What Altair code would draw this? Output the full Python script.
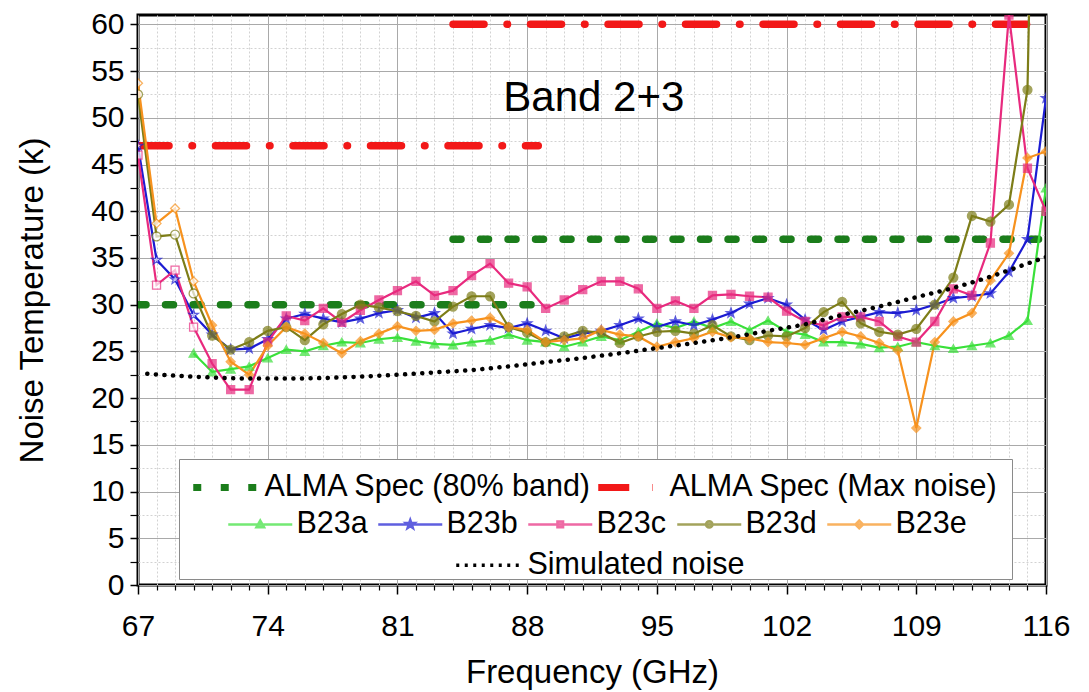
import altair as alt
import pandas as pd

FONT = "Arial"

# ---------------- data ----------------
FREQ = list(range(67, 117))

B23A = [None, None, None, 24.8, 22.8, 23.1, 23.4, 24.3, 25.2, 25.0,
        25.6, 26.0, 25.9, 26.3, 26.5, 26.1, 25.8, 25.7, 26.0, 26.2,
        26.8, 26.2, 26.0, 25.5, 26.0, 26.6, 26.2, 27.1, 28.0, 27.5,
        28.2, 27.5, 28.2, 27.3, 28.3, 27.1, 26.8, 26.0, 26.0, 25.8,
        25.4, 25.5, 26.0, 25.6, 25.3, 25.6, 25.9, 26.7, 28.3, 42.5]
B23B = [47.0, 34.8, 32.7, 28.9, 26.8, 25.2, 25.3, 26.3, 28.5, 29.0,
        28.5, 28.1, 28.5, 29.1, 29.4, 28.6, 29.1, 26.9, 27.4, 27.8,
        27.5, 28.0, 27.2, 26.4, 26.9, 27.2, 27.8, 28.5, 27.6, 28.2,
        27.8, 28.4, 29.1, 30.1, 30.7, 30.0, 28.4, 27.3, 28.2, 28.7,
        29.2, 29.1, 29.4, 30.0, 30.7, 30.9, 31.2, 33.5, 37.0, 52.1]
B23C = [46.0, 32.1, 33.7, 27.6, 23.7, 20.9, 20.9, 26.0, 28.8, 28.3,
        29.6, 28.1, 29.4, 30.5, 31.5, 32.5, 31.0, 31.5, 33.1, 34.4,
        32.3, 31.9, 29.6, 30.5, 31.6, 32.5, 32.5, 31.7, 29.6, 30.4,
        29.6, 31.0, 31.1, 30.9, 30.8, 29.3, 28.2, 27.8, 28.7, 28.7,
        28.2, 26.6, 26.0, 28.2, 31.7, 31.0, 36.6, 61.0, 44.6, 40.0]
B23D = [52.5, 37.3, 37.5, 31.2, 26.7, 25.2, 26.0, 27.2, 27.6, 26.2,
        27.9, 29.0, 30.0, 29.7, 29.3, 28.8, 28.2, 29.8, 30.9, 30.9,
        27.6, 27.0, 26.0, 26.6, 27.2, 27.0, 25.9, 26.6, 27.1, 27.2,
        26.9, 27.8, 26.6, 26.2, 26.7, 26.6, 27.5, 29.2, 30.3, 28.0,
        27.1, 26.8, 27.4, 30.0, 32.9, 39.5, 38.9, 40.7, 53.0, 150.0]
B23E = [53.7, 38.7, 40.3, 32.5, 27.8, 23.9, 22.5, 25.6, 27.6, 26.9,
        25.9, 24.8, 26.1, 26.9, 27.7, 27.2, 27.3, 28.0, 28.3, 28.6,
        27.6, 27.3, 26.0, 26.2, 26.4, 27.3, 26.8, 26.6, 25.5, 26.0,
        26.4, 27.1, 26.5, 26.4, 26.0, 25.9, 25.7, 26.4, 27.1, 26.6,
        25.9, 25.1, 16.8, 26.0, 28.2, 29.1, 32.6, 35.5, 45.7, 46.4]

SIM_FREQ = [67.5, 69, 71, 73, 75, 77, 79, 81, 83, 85, 87, 89, 91, 93,
            95, 97, 99, 101, 103, 105, 107, 109, 111, 113, 115, 116]
SIM_T = [22.6, 22.4, 22.2, 22.1, 22.1, 22.15, 22.3, 22.5, 22.75, 23.0,
         23.4, 23.85, 24.3, 24.8, 25.35, 25.9, 26.5, 27.2, 27.9, 28.9,
         29.8, 30.8, 31.8, 33.0, 34.4, 35.1]
SIM_NAME = "Simulated noise"

SERIES = ["B23a", "B23b", "B23c", "B23d", "B23e"]
SERIES_VALUES = [B23A, B23B, B23C, B23D, B23E]
COLORS = ["#3ae03a", "#1c1cd2", "#e82a7e", "#7d7d18", "#f7921e"]

SPEC_NAMES = ["ALMA Spec (80% band)", "ALMA Spec (Max noise)"]
SPEC_SEGMENT = [SPEC_NAMES[0], SPEC_NAMES[0], SPEC_NAMES[1], SPEC_NAMES[1]]
SPEC_START = [67, 84, 67, 84]
SPEC_END = [89, 116, 88.6, 116]
SPEC_LEVEL = [30, 37, 47, 60]
SPEC_COLORS = ["#1b7d1b", "#f21818"]

X_MAJOR = [67, 74, 81, 88, 95, 102, 109, 116]
X_MINOR = [v for v in range(67, 117) if v not in X_MAJOR]
Y_MAJOR = list(range(0, 61, 5))
Y_MINOR = [v + 2.5 for v in range(0, 60, 5)]

BAND_TEXT = "Band 2+3"
BAND_F = 91.6
BAND_T = 52.1

# ---------------- tables ----------------
rows = []
for name, vals in zip(SERIES, SERIES_VALUES):
    for f, t in zip(FREQ, vals):
        if t is not None:
            rows.append({"f": f, "T": t, "series": name})
df = pd.DataFrame(rows)
spec_df = pd.DataFrame({"spec": SPEC_SEGMENT, "start": SPEC_START,
                        "end": SPEC_END, "level": SPEC_LEVEL})
sim_df = pd.DataFrame({"f": SIM_FREQ, "T": SIM_T, "sim": SIM_NAME})
band_df = pd.DataFrame({"f": [BAND_F], "T": [BAND_T], "label": [BAND_TEXT]})

STAR = ("M0,-1L0.235,-0.324L0.951,-0.309L0.38,0.124L0.588,0.809L0,0.4"
        "L-0.588,0.809L-0.38,0.124L-0.951,-0.309L-0.235,-0.324Z")
PLOT_SHAPES = ["triangle-up", STAR, "square", "circle", "diamond"]
PLOT_SIZES = [80, 100, 64, 80, 80]

# legend symbol paths (1 unit = 4 px); line from -3.5 to 12.5, marker at 4.5
LEG_LINE = "M-3.5,0H12.5"
LEGEND_SHAPES = [
    LEG_LINE + "M4.5,-0.95L5.45,0.7L3.55,0.7Z",
    LEG_LINE + "M4.5,-1.1L4.76,-0.36L5.55,-0.34L4.92,0.14L5.15,0.89L4.5,0.44"
               "L3.85,0.89L4.08,0.14L3.45,-0.34L4.24,-0.36Z",
    LEG_LINE + "M3.8,-0.7H5.2V0.7H3.8Z",
    LEG_LINE + "M5.3,0A0.8,0.8,0,1,1,3.7,0A0.8,0.8,0,1,1,5.3,0Z",
    LEG_LINE + "M4.5,-0.95L5.45,0L4.5,0.95L3.55,0Z",
]

xscale = alt.Scale(domain=[67, 116], nice=False, zero=False)
yscale = alt.Scale(domain=[0, 61], nice=False, zero=False)
stroke_scale = alt.Scale(domain=SERIES, range=COLORS)
fill_scale = alt.Scale(domain=SERIES, range=COLORS)

x_main = alt.Axis(values=X_MAJOR, orient="bottom", grid=True, gridColor="#a9a9a9",
                  gridWidth=1, tickSize=9, tickWidth=1.5, tickColor="black",
                  domain=False, labelFontSize=30, labelFont=FONT, labelColor="black",
                  labelPadding=17, labelFlush=False, labelOverlap=False,
                  title="Frequency (GHz)", titleFontSize=33, titleFont=FONT,
                  titleFontWeight="normal", titleColor="black", titlePadding=15)
x_minor = alt.Axis(values=X_MINOR, orient="bottom", grid=True, gridColor="#d2d2d2",
                   gridDash=[2, 2], gridWidth=1, tickSize=5, tickWidth=1.2,
                   tickColor="black", domain=False, labels=False, title=None)
y_main = alt.Axis(values=Y_MAJOR, orient="left", grid=True, gridColor="#a9a9a9",
                  gridWidth=1, tickSize=8, tickWidth=1.5, tickColor="black",
                  domain=False, labelFontSize=30, labelFont=FONT, labelColor="black",
                  labelPadding=6, labelFlush=False, labelOverlap=False,
                  title="Noise Temperature (k)", titleFontSize=33, titleFont=FONT,
                  titleFontWeight="normal", titleColor="black", titlePadding=41)
y_minor = alt.Axis(values=Y_MINOR, orient="left", grid=True, gridColor="#d2d2d2",
                   gridDash=[2, 2], gridWidth=1, tickSize=8, tickWidth=1.2,
                   tickColor="black", domain=False, labels=False, title=None)

legend_spec = alt.Legend(
    orient="none", legendX=41, legendY=444, direction="horizontal", columns=2,
    columnPadding=-8, padding=13, fillColor="white", strokeColor="#8a8a8a",
    labelFontSize=30.5, labelFont=FONT, labelColor="black", labelLimit=0,
    symbolType="M-3.5,0H14.75", symbolSize=64, symbolStrokeWidth=7,
    labelOffset=42,
    title=[" ", " "], titleOrient="bottom", titleFontSize=26, titleLineHeight=36.5,
    titlePadding=0, zindex=1)

legend_series = alt.Legend(
    orient="none", legendX=89, legendY=494, direction="horizontal", columns=5,
    columnPadding=5, padding=0, labelFontSize=30.5, labelFont=FONT,
    labelColor="black", labelLimit=0, symbolSize=64, symbolStrokeWidth=2.5,
    labelOffset=39, title=None, zindex=2)

legend_sim = alt.Legend(
    orient="none", legendX=317, legendY=535, padding=0, labelFontSize=30.5,
    labelFont=FONT, labelColor="black", labelLimit=0, symbolType="M-3.5,0H12.5",
    symbolSize=64, symbolStrokeColor="black", symbolStrokeWidth=3.5,
    symbolDash=[3, 5.5], labelOffset=42, title=None, zindex=2)

X = alt.X("f:Q", scale=xscale, axis=None)
Y = alt.Y("T:Q", scale=yscale, axis=None)

legend_layer = alt.Chart(df).transform_filter("datum.f < 0").mark_point(
    filled=True, strokeWidth=2.5).encode(
    x=X, y=Y,
    shape=alt.Shape("series:N", scale=alt.Scale(domain=SERIES, range=LEGEND_SHAPES),
                    legend=legend_series),
    fill=alt.Fill("series:N", scale=fill_scale, legend=legend_series),
    stroke=alt.Stroke("series:N", scale=stroke_scale, legend=legend_series),
)

spec = alt.Chart(spec_df).mark_rule(strokeWidth=7.5, strokeCap="round", clip=True).encode(
    x=alt.X("start:Q", scale=xscale, axis=x_main),
    x2="end:Q",
    y=alt.Y("level:Q", scale=yscale, axis=y_main),
    color=alt.Color("spec:N", scale=alt.Scale(domain=SPEC_NAMES, range=SPEC_COLORS),
                    legend=legend_spec),
    strokeDash=alt.StrokeDash("spec:N",
                              scale=alt.Scale(domain=SPEC_NAMES,
                                              range=[[8, 19.5], [31, 23, 0.5, 23]]),
                              legend=legend_spec),
)

lines = alt.Chart(df).mark_line(strokeWidth=2.2, clip=True).encode(
    x=alt.X("f:Q", scale=xscale, axis=x_minor),
    y=alt.Y("T:Q", scale=yscale, axis=y_minor),
    stroke=alt.Stroke("series:N", scale=stroke_scale, legend=None),
)

point_layers = []
for name, shp, sz in zip(SERIES, PLOT_SHAPES, PLOT_SIZES):
    point_layers.append(
        alt.Chart(df).transform_filter(alt.datum.series == name)
        .mark_point(shape=shp, size=sz, filled=True, strokeWidth=1.3, clip=True)
        .encode(
            x=X, y=Y,
            fill=alt.condition("datum.f <= 70 && datum.series != 'B23a'",
                               alt.value("white"),
                               alt.Fill("series:N", scale=fill_scale, legend=None)),
            stroke=alt.Stroke("series:N", scale=stroke_scale, legend=None),
        )
    )

sim = alt.Chart(sim_df).mark_line(color="black", strokeWidth=4.5, strokeDash=[0.1, 8.5],
                                  strokeCap="round", interpolate="monotone",
                                  clip=True).encode(
    x=X, y=Y,
    opacity=alt.Opacity("sim:O", scale=alt.Scale(domain=[SIM_NAME], range=[1]),
                        legend=legend_sim),
)

band = alt.Chart(band_df).mark_text(
    fontSize=42, font=FONT, color="black", align="center", baseline="middle").encode(
    x=X, y=Y, text="label:N")

chart = alt.layer(legend_layer, spec, lines, *point_layers, sim, band).resolve_axis(
    x="independent", y="independent"
).properties(
    width=908, height=570,
    padding={"left": 8, "top": 1, "right": 5, "bottom": 5}
).configure_view(stroke="black", strokeWidth=3)

chart.save("out.html", embed_options={"renderer": "svg", "actions": False})
